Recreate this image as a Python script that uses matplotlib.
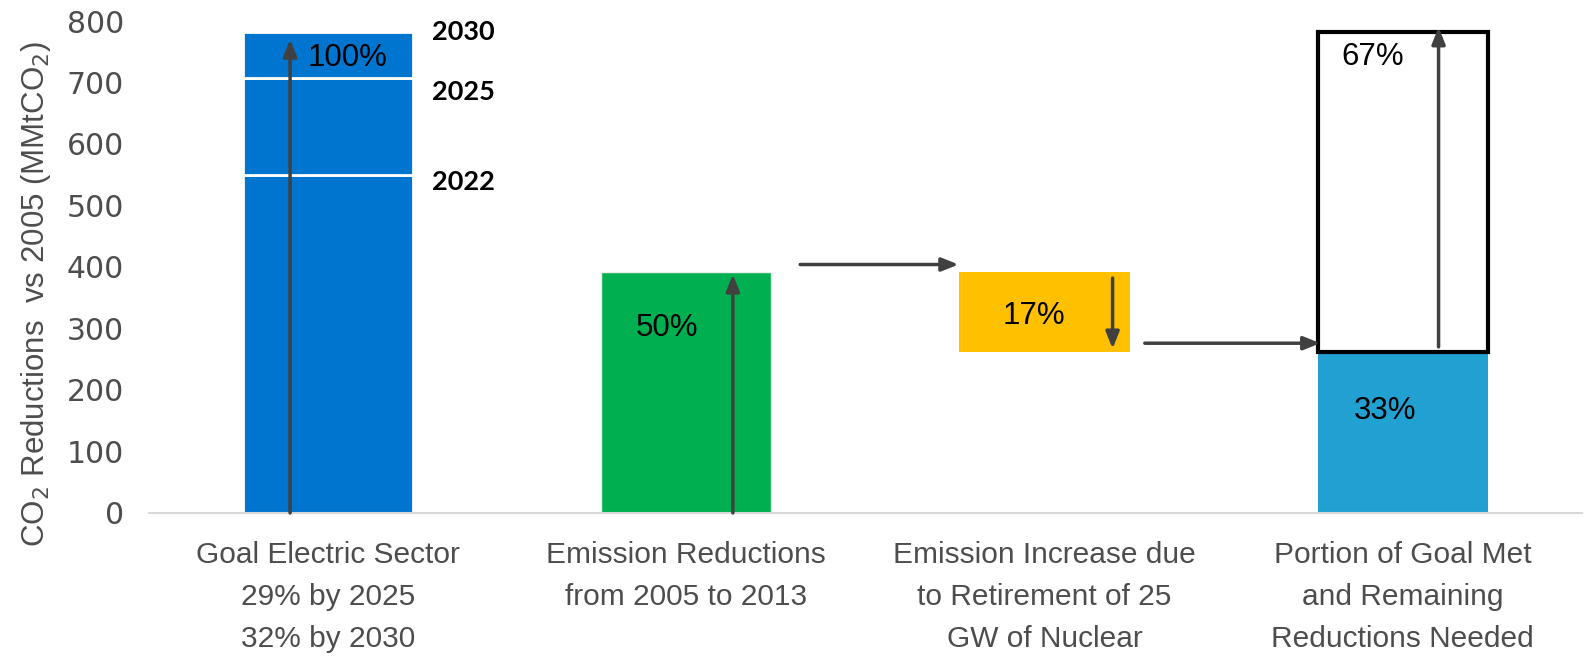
import matplotlib.pyplot as plt
import numpy as np

plt.rcParams['font.family'] = ['Liberation Sans', 'DejaVu Sans']

categories = ['Goal Electric Sector\n29% by 2025\n32% by 2030',
              'Emission Reductions\nfrom 2005 to 2013',
              'Emission Increase due\nto Retirement of 25\nGW of Nuclear',
              'Portion of Goal Met\nand Remaining\nReductions Needed']

# goal bar split by milestone year
goal_years = ['2022', '2025', '2030']
goal_levels = [550, 707, 782]
reduction_2013 = 392
nuclear_increase = 130
goal_met = reduction_2013 - nuclear_increase
remaining = goal_levels[-1] - goal_met
pct_labels = ['100%', '50%', '17%', '33%', '67%']

BLUE = '#0075CF'
GREEN = '#00B050'
ORANGE = '#FFC000'
LIGHTBLUE = '#21A0D2'
ARROW = '#404040'
GRAY = '#4D4D4D'

fig, ax = plt.subplots(figsize=(15.93, 6.67), dpi=100)
fig.subplots_adjust(left=0.0935, right=0.993, bottom=0.231, top=0.9685)

x = np.arange(len(categories))
w = 0.475

# bar 1: stacked goal segments
bottoms = [0] + goal_levels[:-1]
heights = np.diff([0] + goal_levels)
ax.bar(x[0], heights, width=w, bottom=bottoms, color=BLUE, edgecolor='white', linewidth=2)

# bar 2: reductions
ax.bar(x[1], reduction_2013, width=w, color=GREEN, edgecolor='#EEEEEE', linewidth=1)

# bar 3: floating increase
ax.bar(x[2], nuclear_increase, width=w, bottom=goal_met, color=ORANGE, linewidth=0)

# bar 4: met + remaining box
ax.bar(x[3], goal_met, width=w, color=LIGHTBLUE, linewidth=0)
ax.bar(x[3], remaining, width=w, bottom=goal_met, facecolor='white', edgecolor='black', linewidth=3)

def arrow(x0, y0, x1, y1):
    ax.annotate('', xy=(x1, y1), xytext=(x0, y0),
                arrowprops=dict(arrowstyle='-|>,head_length=1.0,head_width=0.4',
                                color=ARROW, lw=2.5, shrinkA=0, shrinkB=0))

arrow(x[0] - 0.106, 0, x[0] - 0.106, goal_levels[-1] - 12)
arrow(x[1] + 0.13, 0, x[1] + 0.13, reduction_2013 - 4)
arrow(x[2] + 0.19, reduction_2013 - 10, x[2] + 0.19, goal_met + 5)
arrow(x[3] + 0.10, goal_met + 8, x[3] + 0.10, goal_levels[-1] + 8)
arrow(x[1] + 0.318, reduction_2013 + 12, x[1] + 0.76, reduction_2013 + 12)
arrow(x[2] + 0.28, goal_met + 14, x[2] + 0.77, goal_met + 14)

# milestone labels
for yr, lvl, dy in zip(goal_years, goal_levels, [-12, -22, 0]):
    ax.text(x[0] + 0.29, lvl + dy, yr, fontsize=19.5, fontweight='bold',
            ha='left', va='center', color='black', family=['Lato', 'DejaVu Sans'])

pct_pos = [(x[0] + 0.055, goal_levels[-1] - 42),
           (x[1] - 0.055, 300),
           (x[2] - 0.03, 320),
           (x[3] - 0.05, 166),
           (x[3] - 0.085, 742)]
for lab, (px, py) in zip(pct_labels, pct_pos):
    ax.text(px, py, lab, fontsize=22.5, ha='center', va='center', color='black')

ax.set_xlim(-0.5, 3.5)
ax.set_ylim(0, 800)
ax.set_yticks(np.arange(0, 801, 100))
ax.set_xticks(x)
ax.set_xticklabels(categories, fontsize=21.5, color=GRAY, linespacing=1.65)
ax.tick_params(axis='both', length=0)
ax.tick_params(axis='y', pad=18)
for t in ax.get_yticklabels():
    t.set_fontfamily(['DejaVu Sans'])
    t.set_fontsize(21.5)
    t.set_color(GRAY)
ax.tick_params(axis='x', pad=20)
ax.set_ylabel('CO$_2$ Reductions  vs 2005 (MMtCO$_2$)', fontsize=22.5, color=GRAY)
ax.yaxis.set_label_coords(-0.067, 0.445)

for s in ['top', 'right', 'left']:
    ax.spines[s].set_visible(False)
ax.spines['bottom'].set_color('#D9D9D9')
ax.spines['bottom'].set_linewidth(1.5)

fig.savefig('out.png', dpi=100, facecolor='white')
